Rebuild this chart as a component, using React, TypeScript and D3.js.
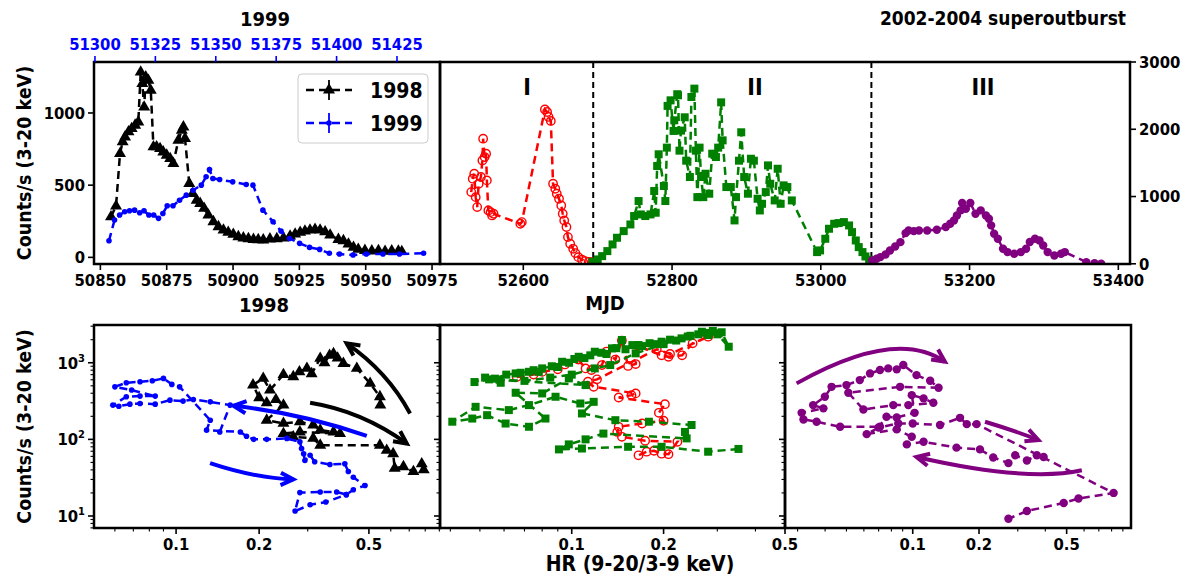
import React from 'react';
import * as d3 from 'd3';

const FONT = "'DejaVu Sans Condensed', 'DejaVu Sans', sans-serif";

// ---------------- Light curves (top row) ----------------
const mjd1998 = [50854.0, 50855.9, 50857.4, 50858.4, 50859.3, 50860.6, 50861.8, 50863.1, 50864.3, 50865.2, 50865.8, 50866.5, 50867.1, 50868.1, 50869.0, 50870.0, 50871.2, 50872.5, 50873.7, 50875.0, 50876.3, 50877.5, 50879.4, 50880.7, 50881.3, 50881.9, 50883.5, 50884.8, 50886.3, 50887.6, 50889.1, 50890.7, 50892.6, 50894.5, 50896.4, 50898.2, 50900.1, 50902.0, 50903.9, 50905.8, 50907.7, 50909.5, 50911.4, 50913.9, 50916.5, 50919.0, 50921.5, 50923.4, 50925.3, 50927.1, 50929.0, 50930.9, 50932.8, 50934.7, 50936.6, 50939.7, 50941.6, 50943.5, 50945.4, 50947.2, 50949.7, 50952.3, 50954.8, 50957.3, 50959.8, 50962.3, 50963.6];
const counts1998 = [281, 355, 719, 800, 834, 869, 892, 915, 938, 1283, 1203, 1041, 1249, 1226, 1157, 765, 765, 753, 730, 707, 684, 650, 811, 880, 903, 823, 512, 442, 396, 373, 339, 293, 247, 212, 189, 173, 159, 143, 134, 129, 124, 122, 120, 127, 129, 134, 147, 161, 173, 182, 189, 194, 189, 177, 154, 124, 115, 92, 69, 55, 48, 44, 47, 42, 45, 43, 40];

const mjd1999 = [51305.8, 51308.1, 51310.2, 51312.3, 51314.3, 51316.4, 51318.5, 51320.3, 51322.3, 51324.3, 51326.3, 51328.1, 51329.9, 51332.3, 51335.0, 51337.8, 51340.6, 51344.0, 51346.0, 51347.4, 51348.8, 51351.6, 51357.0, 51362.6, 51365.4, 51369.5, 51373.7, 51377.0, 51380.5, 51384.7, 51388.8, 51393.0, 51397.0, 51401.2, 51406.8, 51412.3, 51419.2, 51426.0, 51436.0];
const counts1999 = [115, 258, 293, 316, 323, 327, 309, 323, 293, 293, 270, 304, 357, 357, 396, 431, 465, 500, 558, 608, 546, 539, 523, 505, 500, 327, 247, 182, 131, 97, 69, 55, 28, 23, 16, 23, 23, 23, 28];

const mjdPhaseI = [52530, 52532, 52534, 52536, 52538, 52540, 52543, 52545, 52546, 52548, 52550, 52551, 52553, 52556, 52558, 52560, 52596, 52598, 52629, 52632, 52634, 52637, 52640, 52643, 52645, 52648, 52651, 52653, 52655, 52658, 52660, 52663, 52667, 52670, 52674, 52679, 52683, 52688, 52692];
const countsPhaseI = [1066, 1265, 1339, 991, 843, 1190, 1290, 1537, 1860, 1587, 1637, 1240, 793, 768, 719, 744, 595, 620, 2294, 2257, 2183, 2124, 1190, 1116, 1042, 967, 868, 744, 645, 546, 397, 298, 223, 159, 99, 60, 40, 30, 25];

const mjdPhaseII = [52693, 52700, 52706, 52713, 52720, 52726, 52735, 52744, 52749, 52755, 52758, 52764, 52771, 52776, 52778, 52780, 52782, 52789, 52791, 52793, 52794, 52798, 52802, 52803, 52807, 52808, 52810, 52812, 52817, 52819, 52824, 52826, 52830, 52832, 52834, 52837, 52839, 52842, 52845, 52850, 52854, 52859, 52862, 52866, 52868, 52873, 52879, 52884, 52886, 52890, 52893, 52897, 52902, 52906, 52910, 52915, 52918, 52921, 52926, 52929, 52932, 52938, 52942, 52946, 52950, 52955, 52961, 52995, 52999, 53006, 53011, 53018, 53024, 53031, 53038, 53042, 53047, 53051, 53056, 53060, 53065, 53068];
const countsPhaseII = [30, 65, 114, 189, 288, 387, 486, 585, 710, 933, 734, 710, 734, 1082, 759, 1454, 1628, 1157, 933, 1727, 2347, 2430, 1975, 2133, 2521, 2505, 1682, 1980, 2178, 1533, 1290, 2480, 2604, 1682, 991, 1727, 1290, 991, 1339, 1042, 1637, 1587, 1727, 2400, 1835, 1141, 1141, 645, 991, 1533, 1955, 1290, 1042, 1562, 1533, 967, 793, 892, 1066, 1463, 1190, 942, 1413, 892, 1166, 1141, 942, 174, 199, 372, 521, 595, 605, 620, 570, 471, 347, 248, 174, 109, 60, 40];

const mjdPhaseIII = [53069, 53075, 53080, 53087, 53093, 53100, 53107, 53114, 53118, 53125, 53132, 53143, 53156, 53168, 53174, 53179, 53183, 53188, 53190, 53195, 53201, 53208, 53215, 53222, 53226, 53229, 53233, 53238, 53245, 53251, 53260, 53269, 53276, 53281, 53288, 53294, 53299, 53305, 53314, 53323, 53328, 53357, 53368, 53377];
const countsPhaseIII = [49, 74, 99, 139, 198, 258, 322, 456, 496, 486, 496, 496, 506, 546, 595, 645, 719, 794, 903, 819, 903, 744, 794, 719, 670, 571, 447, 372, 223, 174, 149, 174, 223, 323, 372, 347, 273, 174, 124, 149, 174, 25, 10, 2];

const phaseBoundaries = [52694, 53068];
const phaseNames = ['I', 'II', 'III'];

// ---------------- Hardness-intensity (bottom row) ----------------
const hr1998 = [0.55, 0.548, 0.505, 0.452, 0.404, 0.385, 0.372, 0.36, 0.345, 0.333, 0.31, 0.298, 0.28, 0.266, 0.245, 0.219, 0.207, 0.19, 0.2, 0.213, 0.23, 0.245, 0.213, 0.245, 0.281, 0.314, 0.333, 0.372, 0.393, 0.281, 0.245, 0.266, 0.314, 0.333, 0.548, 0.58, 0.612, 0.62, 0.667, 0.725, 0.777, 0.79];
const hc1998 = [280, 360, 538, 844, 980, 1150, 1318, 1250, 1000, 1140, 720, 844, 760, 656, 700, 440, 625, 513, 350, 300, 330, 280, 178, 162, 170, 154, 132, 125, 119, 125, 119, 108, 103, 84, 84, 72, 65, 42, 44, 38, 48, 40];

const hr1999 = [0.144, 0.157, 0.133, 0.1155, 0.106, 0.095, 0.084, 0.074, 0.068, 0.062, 0.059, 0.066, 0.074, 0.084, 0.069, 0.060, 0.066, 0.074, 0.082, 0.090, 0.0965, 0.103, 0.133, 0.129, 0.171, 0.180, 0.191, 0.213, 0.252, 0.281, 0.285, 0.29, 0.293, 0.306, 0.318, 0.361, 0.409, 0.421, 0.439, 0.484, 0.439, 0.414, 0.382, 0.333, 0.281, 0.27, 0.306, 0.349, 0.414];
const hc1999 = [125, 280, 309, 332, 316, 325, 288, 294, 288, 271, 280, 360, 367, 367, 440, 485, 548, 565, 582, 625, 522, 485, 178, 132, 125, 110, 100, 100, 103, 93, 76, 65, 53, 62, 51, 47, 48, 38, 32, 25, 22, 19, 20.6, 20.6, 20.2, 11.6, 14, 15.2, 19];

const hrPhaseI = [0.066, 0.075, 0.08, 0.09, 0.095, 0.105, 0.111, 0.116, 0.1256, 0.13, 0.139, 0.146, 0.153, 0.162, 0.165, 0.197, 0.2075, 0.23, 0.249, 0.28, 0.21, 0.19, 0.121, 0.113, 0.118, 0.162, 0.157, 0.1425, 0.202, 0.193, 0.2, 0.17, 0.1425, 0.141, 0.146, 0.174, 0.222, 0.2075, 0.197, 0.186, 0.176, 0.1655];
const hcPhaseI = [650, 700, 760, 820, 950, 1100, 844, 804, 933, 1400, 1100, 1950, 909, 962, 1650, 1250, 1197, 1250, 1791, 2188, 1300, 1500, 607, 565, 485, 398, 378, 352, 288, 222, 175, 161, 146, 125, 108, 96, 93, 64, 65, 71, 69, 62];

const hrPhaseII = [0.352, 0.28, 0.197, 0.153, 0.108, 0.0908, 0.0978, 0.111, 0.127, 0.238, 0.235, 0.247, 0.179, 0.139, 0.108, 0.118, 0.1067, 0.0885, 0.0724, 0.0622, 0.0484, 0.0406, 0.0472, 0.0528, 0.0607, 0.0724, 0.082, 0.0655, 0.080, 0.0978, 0.111, 0.0536, 0.048, 0.052, 0.0585, 0.056, 0.061, 0.0655, 0.068, 0.0724, 0.075, 0.078, 0.080, 0.086, 0.09, 0.093, 0.098, 0.102, 0.1054, 0.11, 0.115, 0.119, 0.125, 0.13, 0.1355, 0.14, 0.146, 0.15, 0.158, 0.1655, 0.17, 0.18, 0.19, 0.197, 0.21, 0.22, 0.229, 0.245, 0.26, 0.267, 0.28, 0.29, 0.303, 0.31, 0.327, 0.3, 0.28, 0.24, 0.2, 0.162, 0.1337, 0.119, 0.1, 0.085, 0.07, 0.058];
const hcPhaseII = [75, 69, 80, 80, 76, 74, 86, 100, 119, 103, 125, 154, 170, 178, 218, 309, 294, 360, 280, 241, 266, 170, 187, 207, 161, 146, 187, 406, 398, 625, 511, 607, 560, 640, 548, 620, 700, 726, 740, 762, 800, 760, 844, 900, 880, 1030, 1000, 1120, 1197, 1150, 1250, 1393, 1350, 1300, 1541, 1550, 1981, 1500, 1700, 1703, 1650, 1800, 1750, 1883, 2000, 1950, 2081, 2250, 2350, 2541, 2450, 2600, 2421, 2500, 1619, 2350, 2300, 2200, 1750, 1327, 933, 844, 700, 640, 580, 600];

const hrPhaseIII = [0.393, 0.366, 0.33, 0.292, 0.272, 0.232, 0.202, 0.158, 0.112, 0.094, 0.099, 0.0846, 0.0618, 0.071, 0.0468, 0.0366, 0.0319, 0.0313, 0.0393, 0.0353, 0.0399, 0.0428, 0.05, 0.0575, 0.064, 0.071, 0.0774, 0.0846, 0.0906, 0.104, 0.12, 0.131, 0.0876, 0.051, 0.0597, 0.0816, 0.0955, 0.124, 0.112, 0.099, 0.102, 0.0846, 0.076, 0.07, 0.086, 0.1, 0.133, 0.164, 0.176, 0.195, 0.817, 0.566, 0.485, 0.33, 0.272];
const hcPhaseIII = [59, 62, 53, 62, 49, 58, 74, 78, 93, 86, 108, 135, 117, 146, 146, 170, 182, 222, 254, 280, 360, 485, 511, 594, 726, 804, 844, 820, 933, 690, 582, 471, 485, 406, 245, 280, 280, 300, 343, 378, 222, 193, 197, 143, 161, 161, 154, 191, 158, 158, 20, 16.9, 14.8, 11.6, 9.2];

// Annotation arrows (data coordinates: tail, control, head)
const arrows1998 = [
  [[0.705, 218], [0.585, 763], [0.415, 1795]],
  [[0.306, 300], [0.471, 234], [0.686, 88]],
];
const arrows1999 = [
  [[0.491, 111], [0.281, 222], [0.1614, 274]],
  [[0.1328, 49], [0.193, 31.3], [0.266, 30]],
];
const arrowsPhaseIII = [
  [[0.0297, 538], [0.0838, 2884], [0.14, 1031]],
  [[0.213, 170], [0.29, 130], [0.372, 98]],
  [[0.586, 39.5], [0.332, 27.5], [0.104, 59]],
];

// ticks
const ticks1998 = [50850, 50875, 50900, 50925, 50950, 50975];
const ticks1999 = [51300, 51325, 51350, 51375, 51400, 51425];
const ticksCountsLeft = [0, 500, 1000];
const ticksMJD = [52600, 52800, 53000, 53200, 53400];
const ticksCountsRight = [0, 1000, 2000, 3000];
const ticksHR = [0.1, 0.2, 0.5];
const ticksLogCounts = [10, 100, 1000];

// colors
const C_BLACK = '#000000';
const C_BLUE = '#0000ff';
const C_RED = '#ff0000';
const C_GREEN = '#008000';
const C_PURPLE = '#800080';

// layout
const TY0 = 62, TY1 = 264, BY0 = 325, BY1 = 528;
const XL0 = 94, XL1 = 440, XM1 = 785, XR1 = 1131;
const TICK = 6, MINOR = 3.5;
const DASH = '8,5';
const LW = 2.5;

function minorLogTicks(domain: number[]) {
  const out: number[] = [];
  const lo = Math.floor(Math.log10(domain[0]));
  const hi = Math.ceil(Math.log10(domain[1]));
  for (let e = lo; e <= hi; e++) {
    for (let m = 1; m <= 9; m++) {
      const v = m * Math.pow(10, e);
      if (v >= domain[0] && v <= domain[1]) out.push(v);
    }
  }
  return out;
}

function zip(a: number[], b: number[]) {
  return a.map((v, i) => [v, b[i]] as [number, number]);
}

function Arrow({ pts, xs, ys, color }: any) {
  const p0 = [xs(pts[0][0]), ys(pts[0][1])];
  const c = [xs(pts[1][0]), ys(pts[1][1])];
  const p1 = [xs(pts[2][0]), ys(pts[2][1])];
  const path = d3.path();
  path.moveTo(p0[0], p0[1]);
  path.quadraticCurveTo(c[0], c[1], p1[0], p1[1]);
  let dx = p1[0] - c[0], dy = p1[1] - c[1];
  const len = Math.hypot(dx, dy) || 1;
  dx /= len; dy /= len;
  const L = 14, a = (26 * Math.PI) / 180;
  const h1 = [p1[0] - L * (dx * Math.cos(a) - dy * Math.sin(a)), p1[1] - L * (dy * Math.cos(a) + dx * Math.sin(a))];
  const h2 = [p1[0] - L * (dx * Math.cos(-a) - dy * Math.sin(-a)), p1[1] - L * (dy * Math.cos(-a) + dx * Math.sin(-a))];
  return (
    <g stroke={color} fill="none" strokeWidth={4}>
      <path d={path.toString()} />
      <polyline points={`${h1[0]},${h1[1]} ${p1[0]},${p1[1]} ${h2[0]},${h2[1]}`} strokeLinejoin="miter" />
    </g>
  );
}

function Markers({ data, xs, ys, kind, color }: any) {
  const tri = d3.symbol(d3.symbolTriangle, 62)() as string;
  return (
    <g>
      {data.map((d: [number, number], i: number) => {
        const x = xs(d[0]), y = ys(d[1]);
        if (kind === 'tri') return <path key={i} d={tri} transform={`translate(${x},${y})`} fill={color} />;
        if (kind === 'sq') return <rect key={i} x={x - 4} y={y - 4} width={8} height={8} fill={color} />;
        if (kind === 'open') return <circle key={i} cx={x} cy={y} r={4.2} fill="none" stroke={color} strokeWidth={1.4} />;
        if (kind === 'dot') return <circle key={i} cx={x} cy={y} r={2.8} fill={color} />;
        return <circle key={i} cx={x} cy={y} r={4.2} fill={color} />;
      })}
    </g>
  );
}

function Series({ data, xs, ys, kind, color, clip }: any) {
  const line = d3.line<[number, number]>().x((d) => xs(d[0])).y((d) => ys(d[1]));
  return (
    <g clipPath={clip ? `url(#${clip})` : undefined}>
      <path d={line(data) as string} fill="none" stroke={color} strokeWidth={LW} strokeDasharray={DASH} />
      <Markers data={data} xs={xs} ys={ys} kind={kind} color={color} />
    </g>
  );
}

export default function App() {
  const x98 = d3.scaleLinear().domain([50847.6, 50978]).range([XL0, XL1]);
  const x99 = d3.scaleLinear().domain([51299.6, 51442.8]).range([XL0, XL1]);
  const yTL = d3.scaleLinear().domain([-46, 1353]).range([TY1, TY0]);
  const xTR = d3.scaleLinear().domain([52488, 53415.7]).range([XL1, 1130]);
  const yTR = d3.scaleLinear().domain([-3, 3000]).range([TY1, TY0]);
  const yB = d3.scaleLog().domain([6.97, 3110]).range([BY1, BY0]);
  const xBL = d3.scaleLog().domain([0.0504, 0.905]).range([XL0, XL1]);
  const xBM = d3.scaleLog().domain([0.037, 0.5]).range([XL1, XM1]);
  const xBR = d3.scaleLog().domain([0.0263, 0.98]).range([XM1, XR1]);

  const tickFont = 16.5;
  const bottomPanels = [
    { xs: xBL, x0: XL0, x1: XL1, id: 'cbl' },
    { xs: xBM, x0: XL1, x1: XM1, id: 'cbm' },
    { xs: xBR, x0: XM1, x1: XR1, id: 'cbr' },
  ];
  const yMinor = minorLogTicks(yB.domain() as number[]).filter((v) => !ticksLogCounts.includes(v));

  return (
    <svg width={1183} height={580} style={{ position: 'absolute', left: 0, top: 0, background: '#fff' }}
      fontFamily={FONT} fontWeight="bold">
      <defs>
        <clipPath id="ctl"><rect x={XL0} y={TY0} width={XL1 - XL0} height={TY1 - TY0} /></clipPath>
        <clipPath id="ctr"><rect x={XL1} y={TY0} width={1130 - XL1} height={TY1 - TY0} /></clipPath>
        {bottomPanels.map((p) => (
          <clipPath key={p.id} id={p.id}><rect x={p.x0} y={BY0} width={p.x1 - p.x0} height={BY1 - BY0} /></clipPath>
        ))}
      </defs>

      {/* ===== Top-left: 1998/1999 light curves ===== */}
      <Series data={zip(mjd1998, counts1998)} xs={x98} ys={yTL} kind="tri" color={C_BLACK} clip="ctl" />
      <Series data={zip(mjd1999, counts1999)} xs={x99} ys={yTL} kind="dot" color={C_BLUE} clip="ctl" />
      <rect x={XL0} y={TY0} width={XL1 - XL0} height={TY1 - TY0} fill="none" stroke="#000" strokeWidth={2.5} />
      {ticksCountsLeft.map((t) => (
        <g key={t}>
          <line x1={XL0 - TICK} x2={XL0} y1={yTL(t)} y2={yTL(t)} stroke="#000" strokeWidth={1.6} />
          <text x={XL0 - 9} y={yTL(t)} dy="0.36em" textAnchor="end" fontSize={tickFont}>{t}</text>
        </g>
      ))}
      {ticks1998.map((t) => (
        <g key={t}>
          <line x1={x98(t)} x2={x98(t)} y1={TY1} y2={TY1 + TICK} stroke="#000" strokeWidth={1.6} />
          <text x={x98(t)} y={TY1 + 22} textAnchor="middle" fontSize={tickFont}>{t}</text>
        </g>
      ))}
      {ticks1999.map((t) => (
        <g key={t}>
          <line x1={x99(t)} x2={x99(t)} y1={TY0} y2={TY0 - TICK} stroke={C_BLUE} strokeWidth={1.6} />
          <text x={x99(t)} y={TY0 - 12} textAnchor="middle" fontSize={tickFont} fill={C_BLUE}>{t}</text>
        </g>
      ))}
      <text x={265} y={26} textAnchor="middle" fontSize={20}>1999</text>
      <text x={264} y={312} textAnchor="middle" fontSize={20}>1998</text>
      <text transform={`translate(24,${(TY0 + TY1) / 2}) rotate(-90)`} textAnchor="middle" dy="0.35em" fontSize={19.5}>Counts/s (3-20 keV)</text>

      {/* legend */}
      <g>
        <rect x={298} y={74} width={130} height={69} rx={4} fill="#fff" fillOpacity={0.85} stroke="#cccccc" strokeWidth={1} />
        <line x1={306} x2={352} y1={90} y2={90} stroke={C_BLACK} strokeWidth={LW} strokeDasharray={DASH} />
        <line x1={329} x2={329} y1={80} y2={100} stroke={C_BLACK} strokeWidth={1.8} />
        <path d={d3.symbol(d3.symbolTriangle, 62)() as string} transform="translate(329,90)" fill={C_BLACK} />
        <text x={370} y={98} fontSize={21}>1998</text>
        <line x1={306} x2={352} y1={123} y2={123} stroke={C_BLUE} strokeWidth={LW} strokeDasharray={DASH} />
        <line x1={329} x2={329} y1={113} y2={133} stroke={C_BLUE} strokeWidth={1.8} />
        <circle cx={329} cy={123} r={2.8} fill={C_BLUE} />
        <text x={370} y={131} fontSize={21}>1999</text>
      </g>

      {/* ===== Top-right: 2002-2004 superoutburst ===== */}
      {phaseBoundaries.map((b) => (
        <line key={b} x1={xTR(b)} x2={xTR(b)} y1={TY0} y2={TY1} stroke="#000" strokeWidth={2} strokeDasharray="6,4" />
      ))}
      <Series data={zip(mjdPhaseI, countsPhaseI)} xs={xTR} ys={yTR} kind="open" color={C_RED} clip="ctr" />
      <Series data={zip(mjdPhaseII, countsPhaseII)} xs={xTR} ys={yTR} kind="sq" color={C_GREEN} clip="ctr" />
      <Series data={zip(mjdPhaseIII, countsPhaseIII)} xs={xTR} ys={yTR} kind="circ" color={C_PURPLE} clip="ctr" />
      <rect x={XL1} y={TY0} width={1130 - XL1} height={TY1 - TY0} fill="none" stroke="#000" strokeWidth={2.5} />
      {[527, 755, 983].map((x, i) => (
        <text key={i} x={x} y={95} textAnchor="middle" fontSize={23}>{phaseNames[i]}</text>
      ))}
      {ticksMJD.map((t) => (
        <g key={t}>
          <line x1={xTR(t)} x2={xTR(t)} y1={TY1} y2={TY1 + TICK} stroke="#000" strokeWidth={1.6} />
          <text x={xTR(t)} y={TY1 + 22} textAnchor="middle" fontSize={tickFont}>{t}</text>
        </g>
      ))}
      {ticksCountsRight.map((t) => (
        <g key={t}>
          <line x1={1130} x2={1130 + TICK} y1={yTR(t)} y2={yTR(t)} stroke="#000" strokeWidth={1.6} />
          <text x={1139} y={yTR(t)} dy="0.36em" textAnchor="start" fontSize={tickFont}>{t}</text>
        </g>
      ))}
      <text x={605} y={310} textAnchor="middle" fontSize={20}>MJD</text>
      <text x={1126} y={25} textAnchor="end" fontSize={19}>2002-2004 superoutburst</text>

      {/* ===== Bottom row: hardness-intensity ===== */}
      <Series data={zip(hr1998, hc1998)} xs={xBL} ys={yB} kind="tri" color={C_BLACK} clip="cbl" />
      <Series data={zip(hr1999, hc1999)} xs={xBL} ys={yB} kind="dot" color={C_BLUE} clip="cbl" />
      {arrows1998.map((a, i) => <Arrow key={'a98' + i} pts={a} xs={xBL} ys={yB} color={C_BLACK} />)}
      {arrows1999.map((a, i) => <Arrow key={'a99' + i} pts={a} xs={xBL} ys={yB} color={C_BLUE} />)}

      <Series data={zip(hrPhaseI, hcPhaseI)} xs={xBM} ys={yB} kind="open" color={C_RED} clip="cbm" />
      <Series data={zip(hrPhaseII, hcPhaseII)} xs={xBM} ys={yB} kind="sq" color={C_GREEN} clip="cbm" />

      <Series data={zip(hrPhaseIII, hcPhaseIII)} xs={xBR} ys={yB} kind="circ" color={C_PURPLE} clip="cbr" />
      {arrowsPhaseIII.map((a, i) => <Arrow key={'a3' + i} pts={a} xs={xBR} ys={yB} color={C_PURPLE} />)}

      {bottomPanels.map((p, pi) => {
        const dom = p.xs.domain() as number[];
        const xMinor = minorLogTicks(dom).filter((v) => !ticksHR.some((t) => Math.abs(t - v) < 1e-9));
        return (
          <g key={p.id}>
            <rect x={p.x0} y={BY0} width={p.x1 - p.x0} height={BY1 - BY0} fill="none" stroke="#000" strokeWidth={2.5} />
            {ticksLogCounts.map((t) => (
              <line key={'yM' + t} x1={p.x0 - TICK} x2={p.x0} y1={yB(t)} y2={yB(t)} stroke="#000" strokeWidth={1.6} />
            ))}
            {yMinor.map((t) => (
              <line key={'ym' + t} x1={p.x0 - MINOR} x2={p.x0} y1={yB(t)} y2={yB(t)} stroke="#000" strokeWidth={1.1} />
            ))}
            {xMinor.map((t) => (
              <line key={'xm' + t} x1={p.xs(t)} x2={p.xs(t)} y1={BY1} y2={BY1 + MINOR} stroke="#000" strokeWidth={1.1} />
            ))}
            {ticksHR.filter((t) => t >= dom[0] && t <= dom[1] * 1.001).map((t) => (
              <g key={'xM' + t}>
                <line x1={p.xs(t)} x2={p.xs(t)} y1={BY1} y2={BY1 + TICK} stroke="#000" strokeWidth={1.6} />
                <text x={p.xs(t)} y={BY1 + 22} textAnchor="middle" fontSize={tickFont}>{t}</text>
              </g>
            ))}
            {pi === 0 && ticksLogCounts.map((t) => (
              <text key={'yl' + t} x={p.x0 - 9} y={yB(t)} dy="0.36em" textAnchor="end" fontSize={tickFont}>
                10<tspan dy="-7" fontSize={11}>{Math.round(Math.log10(t))}</tspan>
              </text>
            ))}
          </g>
        );
      })}
      <text transform={`translate(24,${(BY0 + BY1) / 2}) rotate(-90)`} textAnchor="middle" dy="0.35em" fontSize={19.5}>Counts/s (3-20 keV)</text>
      <text x={640} y={571} textAnchor="middle" fontSize={21}>HR (9-20/3-9 keV)</text>
    </svg>
  );
}
